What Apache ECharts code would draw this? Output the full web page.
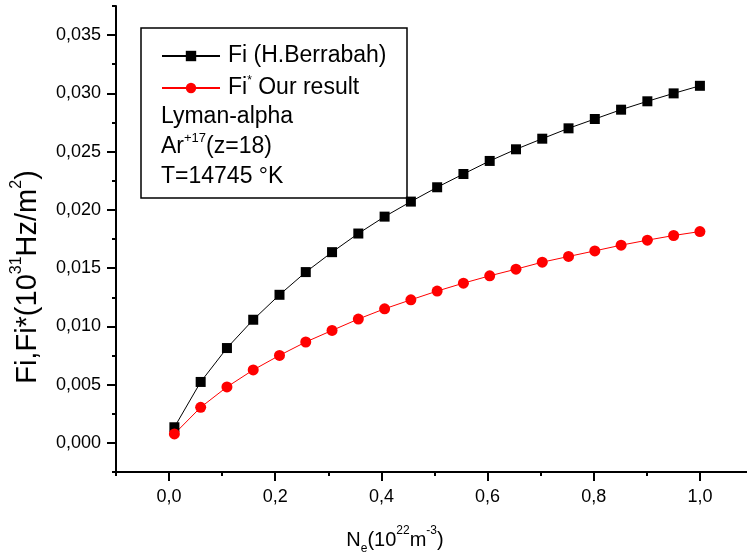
<!DOCTYPE html>
<html>
<head>
<meta charset="utf-8">
<script src="https://cdn.jsdelivr.net/npm/echarts@6/dist/echarts.min.js"></script>
<style>
html,body{margin:0;padding:0;background:#fff;}
#chart{width:747px;height:560px;}
</style>
</head>
<body>
<div id="chart"></div>
<script>
// ---- data ----
const xValues = [0.01, 0.0595, 0.109, 0.1585, 0.208, 0.2575, 0.307, 0.3565, 0.406, 0.4555, 0.505,
                 0.5545, 0.604, 0.6535, 0.703, 0.7525, 0.802, 0.8515, 0.901, 0.9505, 1.0];
const fiBerrabah = [0.00134, 0.00523, 0.00814, 0.01057, 0.01271, 0.01466, 0.01637, 0.01797, 0.01942, 0.02071, 0.02194,
                    0.02308, 0.0242, 0.0252, 0.02611, 0.027, 0.0278, 0.0286, 0.02932, 0.0300, 0.03065];
const fiOurs = [0.00077, 0.00305, 0.0048, 0.00626, 0.00751, 0.00866, 0.00965, 0.01063, 0.01151, 0.01228, 0.01303,
                0.01371, 0.01434, 0.01491, 0.01551, 0.016, 0.01648, 0.01697, 0.0174, 0.0178, 0.01814];
const seriesNames = ['Fi (H.Berrabah)', 'Fi* Our result'];
const xMajorTicks = [0, 0.2, 0.4, 0.6, 0.8, 1.0];
const xMinorTicks = [-0.1, 0.1, 0.3, 0.5, 0.7, 0.9];
const yMajorTicks = [0, 0.005, 0.01, 0.015, 0.02, 0.025, 0.03, 0.035];
const yMinorTicks = [-0.0025, 0.0025, 0.0075, 0.0125, 0.0175, 0.0225, 0.0275, 0.0325, 0.0375];
const xRange = [-0.1, 1.0887];
const yRange = [-0.0025, 0.0375];

const FONT = '"Liberation Sans", Arial, sans-serif';
const pairs = (xs, ys) => xs.map((x, i) => [x, ys[i]]);

const chart = echarts.init(document.getElementById('chart'), null, {renderer: 'canvas'});

const axisLineStyle = {color: '#000', width: 2};

chart.setOption({
  animation: false,
  backgroundColor: '#fff',
  grid: {left: 116, right: 0, top: 6, bottom: 88, containLabel: false},
  xAxis: [
    {
      type: 'value', min: xRange[0], max: xRange[1], position: 'bottom',
      axisLine: {show: true, onZero: false, lineStyle: axisLineStyle},
      axisTick: {show: true, inside: false, length: 9, lineStyle: {color: '#000', width: 2}, customValues: xMajorTicks},
      axisLabel: {show: true, margin: 16, fontSize: 18, fontFamily: FONT, color: '#000',
                  customValues: xMajorTicks,
                  formatter: v => v.toFixed(1).replace('.', ',')},
      splitLine: {show: false}
    },
    {
      type: 'value', min: xRange[0], max: xRange[1], position: 'bottom', offset: 0,
      axisLine: {show: false, onZero: false},
      axisTick: {show: true, inside: false, length: 4, lineStyle: {color: '#000', width: 2}, customValues: xMinorTicks},
      axisLabel: {show: false},
      splitLine: {show: false}
    }
  ],
  yAxis: [
    {
      type: 'value', min: yRange[0], max: yRange[1], position: 'left',
      axisLine: {show: true, onZero: false, lineStyle: axisLineStyle},
      axisTick: {show: true, inside: false, length: 9, lineStyle: {color: '#000', width: 2}, customValues: yMajorTicks},
      axisLabel: {show: true, margin: 15, fontSize: 18, fontFamily: FONT, color: '#000',
                  customValues: yMajorTicks,
                  formatter: v => v.toFixed(3).replace('.', ',')},
      splitLine: {show: false}
    },
    {
      type: 'value', min: yRange[0], max: yRange[1], position: 'left', offset: 0,
      axisLine: {show: false, onZero: false},
      axisTick: {show: true, inside: false, length: 4, lineStyle: {color: '#000', width: 2}, customValues: yMinorTicks},
      axisLabel: {show: false},
      splitLine: {show: false}
    }
  ],
  legend: {
    show: true,
    orient: 'vertical',
    left: 161, top: 43,
    itemWidth: 58, itemHeight: 13, itemGap: 6,
    padding: 0,
    textStyle: {
      fontSize: 23, fontFamily: FONT, color: '#000', lineHeight: 26, padding: [0, 0, 0, 3],
      rich: {
        b: {fontSize: 23, fontFamily: FONT, color: '#000', lineHeight: 26},
        s: {fontSize: 12, fontFamily: FONT, color: '#000', verticalAlign: 'top', lineHeight: 26}
      }
    },
    formatter: name => name === seriesNames[1] ? '{b|Fi}{s|*}{b| Our result}' : '{b|' + name + '}',
    data: seriesNames
  },
  graphic: [
    {type: 'rect', shape: {x: 141, y: 28, width: 266, height: 170}, style: {fill: 'none', stroke: '#000', lineWidth: 1.5}, z: 1, silent: true},
    {type: 'text', x: 161, y: 117, style: {text: 'Lyman-alpha', font: '23px ' + FONT, fill: '#000', textVerticalAlign: 'middle'}, silent: true},
    {type: 'text', x: 161, y: 147, style: {
      text: '{b|Ar}{s|+17}{b|(z=18)}', textVerticalAlign: 'middle',
      rich: {b: {fontSize: 23, fontFamily: FONT, fill: '#000', lineHeight: 30}, s: {fontSize: 13, fontFamily: FONT, fill: '#000', verticalAlign: 'top', lineHeight: 30}}
    }, silent: true},
    {type: 'text', x: 161, y: 177, style: {text: 'T=14745 °K', font: '23px ' + FONT, fill: '#000', textVerticalAlign: 'middle'}, silent: true},
    // x axis title
    {type: 'text', x: 395, y: 540, style: {
      text: '{b|N}{d|e}{b|(10}{s|22}{b|m}{s|-3}{b|)}', textAlign: 'center', textVerticalAlign: 'middle',
      rich: {
        b: {fontSize: 20, fontFamily: FONT, fill: '#000', lineHeight: 30},
        s: {fontSize: 12, fontFamily: FONT, fill: '#000', verticalAlign: 'top', lineHeight: 30},
        d: {fontSize: 12, fontFamily: FONT, fill: '#000', verticalAlign: 'bottom', lineHeight: 30}
      }
    }, silent: true},
    // y axis title
    {type: 'text', x: 28, y: 277, rotation: Math.PI / 2, style: {
      text: '{b|Fi,Fi*(10}{s|31}{b|Hz/m}{s|2}{b|)}', textAlign: 'center', textVerticalAlign: 'middle',
      rich: {
        b: {fontSize: 29, fontFamily: FONT, fill: '#000', lineHeight: 38},
        s: {fontSize: 16, fontFamily: FONT, fill: '#000', verticalAlign: 'top', lineHeight: 38}
      }
    }, silent: true}
  ],
  series: [
    {
      name: seriesNames[0], type: 'line', xAxisIndex: 0, yAxisIndex: 0,
      data: pairs(xValues, fiBerrabah),
      symbol: 'rect', symbolSize: 10, showAllSymbol: true,
      itemStyle: {color: '#000'},
      lineStyle: {color: '#000', width: 1},
      z: 3
    },
    {
      name: seriesNames[1], type: 'line', xAxisIndex: 0, yAxisIndex: 0,
      data: pairs(xValues, fiOurs),
      symbol: 'circle', symbolSize: 11, showAllSymbol: true,
      itemStyle: {color: '#ff0000'},
      lineStyle: {color: '#ff0000', width: 1},
      z: 3
    }
  ]
});
</script>
</body>
</html>
